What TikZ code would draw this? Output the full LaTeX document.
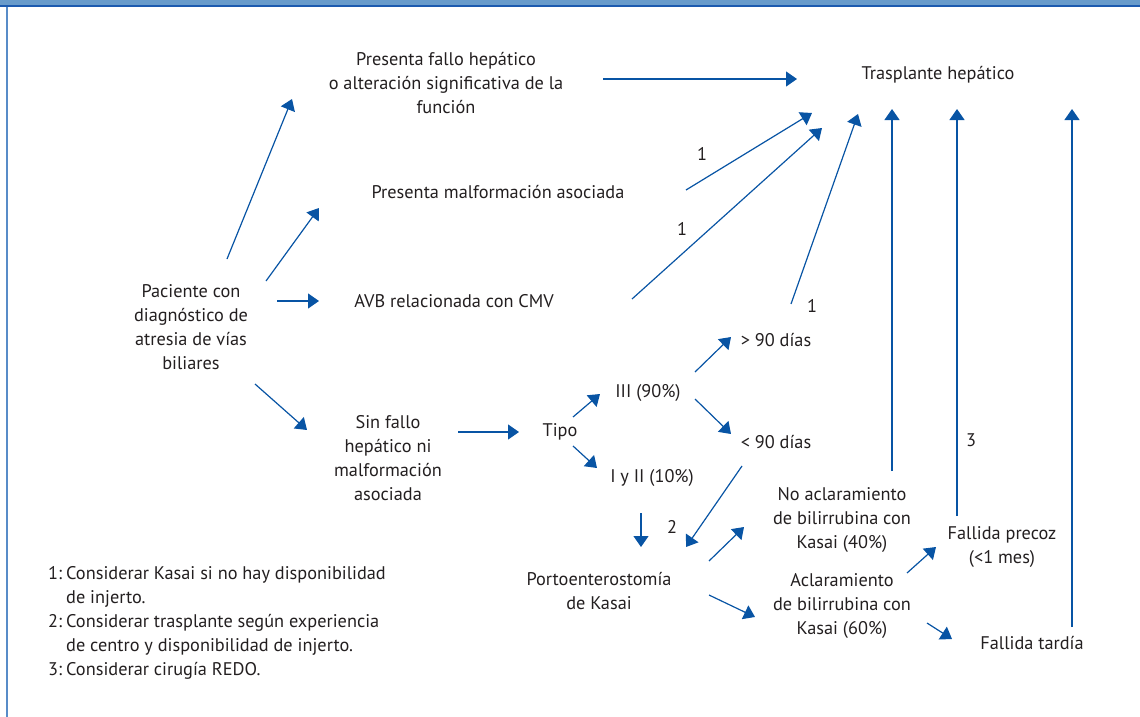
\documentclass[tikz,border=0pt]{standalone}
\usepackage{fontspec}
\setmainfont{PT Sans}
\usetikzlibrary{arrows.meta}
\definecolor{arrowblue}{RGB}{8,84,164}
\definecolor{bandblue}{RGB}{104,155,203}
\definecolor{banddark}{RGB}{28,90,175}
\definecolor{borderblue}{RGB}{88,140,200}
\definecolor{txt}{RGB}{35,31,32}
\begin{document}
\begin{tikzpicture}[x=1pt,y=-1pt,
  lbl/.style={text=txt,font=\fontsize{18.3}{24}\selectfont,align=center,inner sep=0pt},
  arr/.style={draw=arrowblue,line width=1.2pt,-{Triangle[length=11pt,width=15pt]}},
]
\useasboundingbox (0,0) rectangle (1140,717);
\fill[bandblue] (0,0) rectangle (1140,6);
\fill[banddark] (0,5.5) rectangle (1140,7.5);
\draw[borderblue,line width=1.5pt] (7,7) -- (7,717);

% text nodes
\node[lbl] (fallo) at (446,83) {Presenta fallo hepático\\o alteración significativa de la\\función};
\node[lbl] (tx) at (938,75) {Trasplante hepático};
\node[lbl] (malf) at (498,192) {Presenta malformación asociada};
\node[lbl] (avb) at (454,301) {AVB relacionada con CMV};
\node[lbl] (pac) at (191,327) {Paciente con\\diagnóstico de\\atresia de vías\\biliares};
\node[lbl] (sin) at (388,458) {Sin fallo\\hepático ni\\malformación\\asociada};
\node[lbl] (tipo) at (560,432) {Tipo};
\node[lbl] (iii) at (648,393) {III (90\%)};
\node[lbl] (iyii) at (652,478) {I y II (10\%)};
\node[lbl] (m90) at (776,340) {> 90 días};
\node[lbl] (l90) at (776,442) {< 90 días};
\node[lbl] (noacl) at (842,520) {No aclaramiento\\de bilirrubina con\\Kasai (40\%)};
\node[lbl] (acl) at (842,606) {Aclaramiento\\de bilirrubina con\\Kasai (60\%)};
\node[lbl] (porto) at (599,591) {Portoenterostomía\\de Kasai};
\node[lbl] (precoz) at (1002,547) {Fallida precoz\\(<1 mes)};
\node[lbl] (tardia) at (1032,643) {Fallida tardía};

% number labels
\node[lbl] (n1a) at (702,154) {1};
\node[lbl] (n1b) at (682,229) {1};
\node[lbl] (n1c) at (812,306) {1};
\node[lbl] (n2) at (672,527) {2};
\node[lbl] (n3) at (971,440) {3};

% legend
\node[lbl,anchor=west,align=left] (legend) at (48,623) {%
\begin{tabular}{@{}l@{\hspace{4pt}}l@{}}
1: & Considerar Kasai si no hay disponibilidad\\
   & de injerto.\\
2: & Considerar trasplante según experiencia\\
   & de centro y disponibilidad de injerto.\\
3: & Considerar cirugía REDO.
\end{tabular}};

% connector end points
\coordinate (a1s) at (227,259); \coordinate (a1e) at (292,99);
\coordinate (a2s) at (266,281); \coordinate (a2e) at (319,208);
\coordinate (a3s) at (277,301); \coordinate (a3e) at (319,301);
\coordinate (a4s) at (255,384); \coordinate (a4e) at (307,430);
\coordinate (a5s) at (603,79);  \coordinate (a5e) at (797,79);
\coordinate (a6s) at (686,190); \coordinate (a6e) at (812,113);
\coordinate (a7s) at (632,299); \coordinate (a7e) at (822,128);
\coordinate (a8s) at (791,304); \coordinate (a8e) at (858,114);
\coordinate (v1s) at (892,471); \coordinate (v1e) at (892,109);
\coordinate (v2s) at (957,516); \coordinate (v2e) at (957,109);
\coordinate (v3s) at (1072,627); \coordinate (v3e) at (1072,109);
\coordinate (b1s) at (458,432); \coordinate (b1e) at (519,432);
\coordinate (b2s) at (573,417); \coordinate (b2e) at (600,394);
\coordinate (b3s) at (573,446); \coordinate (b3e) at (597,468);
\coordinate (b4s) at (695,372); \coordinate (b4e) at (731,337);
\coordinate (b5s) at (695,399); \coordinate (b5e) at (731,434);
\coordinate (b6s) at (742,466); \coordinate (b6e) at (686,547);
\coordinate (b7s) at (641,513); \coordinate (b7e) at (641,547);
\coordinate (b8s) at (709,561); \coordinate (b8e) at (744,527);
\coordinate (b9s) at (709,595); \coordinate (b9e) at (755,617);
\coordinate (c1s) at (907,573); \coordinate (c1e) at (936,547);
\coordinate (c2s) at (927,623); \coordinate (c2e) at (952,639);

% connectors
\draw[arr] (a1s) -- (a1e);
\draw[arr] (a2s) -- (a2e);
\draw[arr] (a3s) -- (a3e);
\draw[arr] (a4s) -- (a4e);
\draw[arr] (a5s) -- (a5e);
\draw[arr] (a6s) -- (a6e);
\draw[arr] (a7s) -- (a7e);
\draw[arr] (a8s) -- (a8e);
\draw[arr] (v1s) -- (v1e);
\draw[arr] (v2s) -- (v2e);
\draw[arr] (v3s) -- (v3e);
\draw[arr] (b1s) -- (b1e);
\draw[arr] (b2s) -- (b2e);
\draw[arr] (b3s) -- (b3e);
\draw[arr] (b4s) -- (b4e);
\draw[arr] (b5s) -- (b5e);
\draw[arr] (b6s) -- (b6e);
\draw[arr] (b7s) -- (b7e);
\draw[arr] (b8s) -- (b8e);
\draw[arr] (b9s) -- (b9e);
\draw[arr] (c1s) -- (c1e);
\draw[arr] (c2s) -- (c2e);
\end{tikzpicture}
\end{document}
